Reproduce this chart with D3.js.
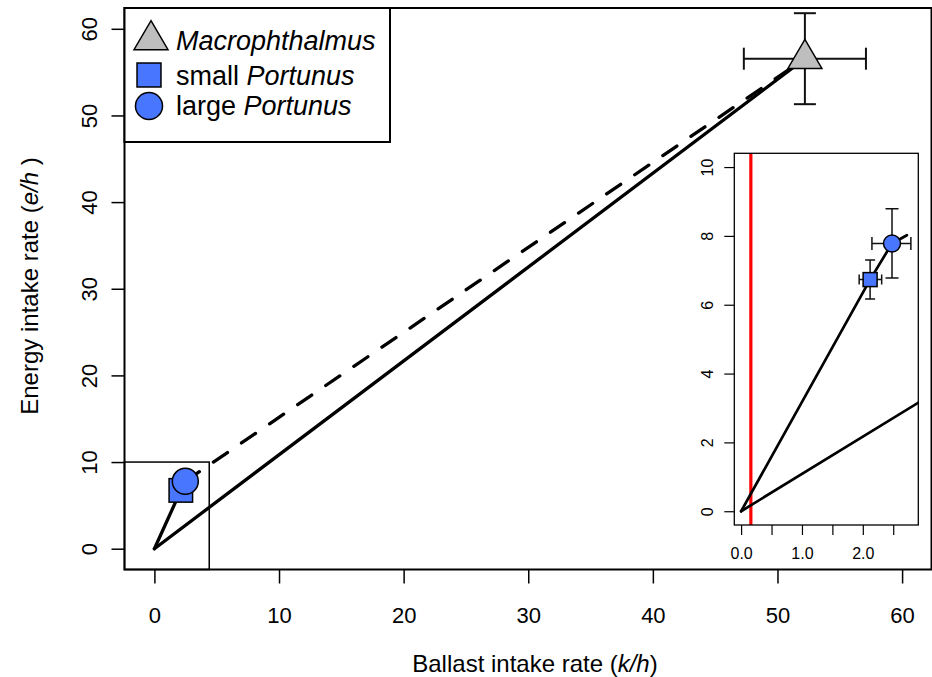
<!DOCTYPE html>
<html>
<head>
<meta charset="utf-8">
<script src="https://cdn.jsdelivr.net/npm/d3@7"></script>
<style>
  body { margin: 0; background: #fff; }
  svg { display: block; font-family: "Liberation Sans", Arial, sans-serif; }
</style>
</head>
<body>
<div id="chart"></div>
<script>
// Species means and error bar limits
const species = ["Macrophthalmus", "small Portunus", "large Portunus"];
const ballast = [52.2, 2.12, 2.48];
const energy = [56.55, 6.73, 7.78];
const ballastLo = [47.3, 1.94, 2.15];
const ballastHi = [57.1, 2.31, 2.79];
const energyLo = [51.3, 6.17, 6.78];
const energyHi = [61.8, 7.3, 8.79];

// Axes
const mainTicks = [0, 10, 20, 30, 40, 50, 60];
const insetXTicks = [0, 0.5, 1, 1.5, 2, 2.5];
const insetXLabels = ["0.0", "1.0", "2.0"];
const insetYTicks = [0, 2, 4, 6, 8, 10];

// Zoomed region marked in the main panel, red reference line in the inset
const zoomCorner = [4.4, 10];
const redLineX = 0.16;

const blue = '#4876FF';
const grey = '#BEBEBE';

function drawChart() {
    const width = 932, height = 677;
    const svg = d3.select('#chart').append('svg')
        .attr('width', width)
        .attr('height', height);

    // Main scales (R style 4% padding around 0..60)
    const x = d3.scaleLinear().domain([-2.4, 62.4]).range([124.5, 932]);
    const y = d3.scaleLinear().domain([-2.4, 62.4]).range([569.5, 8]);

    const pts = species.map((s, i) => ({
        name: s, x: ballast[i], y: energy[i],
        xlo: ballastLo[i], xhi: ballastHi[i], ylo: energyLo[i], yhi: energyHi[i]
    }));
    const [macro, small, large] = pts;

    // Marker helpers
    const triPath = (cx, cy, s) =>
        `M${cx},${cy - 19.3 * s}L${cx + 17 * s},${cy + 9.7 * s}L${cx - 17 * s},${cy + 9.7 * s}Z`;
    function marker(g, kind, cx, cy, s) {
        if (kind === 0) {
            g.append('path').attr('d', triPath(cx, cy, s))
                .attr('fill', grey).attr('stroke', '#000').attr('stroke-width', 1.5);
        } else if (kind === 1) {
            const side = 23.5 * s;
            g.append('rect').attr('x', cx - side / 2).attr('y', cy - side / 2)
                .attr('width', side).attr('height', side)
                .attr('fill', blue).attr('stroke', '#000').attr('stroke-width', 1.5);
        } else {
            g.append('circle').attr('cx', cx).attr('cy', cy).attr('r', 13 * s)
                .attr('fill', blue).attr('stroke', '#000').attr('stroke-width', 1.5);
        }
    }
    function errorBars(g, p, sx, sy, cap, sw) {
        const c = '#111';
        g.append('line').attr('x1', sx(p.xlo)).attr('x2', sx(p.xhi))
            .attr('y1', sy(p.y)).attr('y2', sy(p.y)).attr('stroke', c).attr('stroke-width', sw);
        g.append('line').attr('x1', sx(p.x)).attr('x2', sx(p.x))
            .attr('y1', sy(p.ylo)).attr('y2', sy(p.yhi)).attr('stroke', c).attr('stroke-width', sw);
        [p.xlo, p.xhi].forEach(v => g.append('line')
            .attr('x1', sx(v)).attr('x2', sx(v))
            .attr('y1', sy(p.y) - cap / 2).attr('y2', sy(p.y) + cap / 2)
            .attr('stroke', c).attr('stroke-width', sw));
        [p.ylo, p.yhi].forEach(v => g.append('line')
            .attr('x1', sx(p.x) - cap / 2).attr('x2', sx(p.x) + cap / 2)
            .attr('y1', sy(v)).attr('y2', sy(v))
            .attr('stroke', c).attr('stroke-width', sw));
    }
    function drawLines(g, sx, sy, lw) {
        const line = d3.line().x(d => sx(d[0])).y(d => sy(d[1]));
        g.append('path')
            .attr('d', line([[0, 0], [macro.x, macro.y]]))
            .attr('fill', 'none').attr('stroke', '#000').attr('stroke-width', lw)
            .attr('stroke-linecap', 'round');
        g.append('path')
            .attr('d', line([[0, 0], [small.x, small.y], [large.x, large.y]]))
            .attr('fill', 'none').attr('stroke', '#000').attr('stroke-width', lw)
            .attr('stroke-linecap', 'round').attr('stroke-linejoin', 'round');
        g.append('path')
            .attr('d', line([[large.x, large.y], [macro.x, macro.y]]))
            .attr('fill', 'none').attr('stroke', '#000').attr('stroke-width', lw)
            .attr('stroke-dasharray', '17 17').attr('stroke-linecap', 'round');
    }

    // ---- Main panel ----
    const main = svg.append('g');

    // Zoom rectangle
    main.append('rect')
        .attr('x', x(-2.4)).attr('y', y(zoomCorner[1]))
        .attr('width', x(zoomCorner[0]) - x(-2.4))
        .attr('height', y(-2.4) - y(zoomCorner[1]))
        .attr('fill', 'none').attr('stroke', '#000').attr('stroke-width', 1.5);

    drawLines(main, x, y, 3.3);
    errorBars(main, macro, x, y, 22, 2);
    marker(main, 0, x(macro.x), y(macro.y), 1);
    marker(main, 1, x(small.x), y(small.y), 1);
    marker(main, 2, x(large.x), y(large.y), 1);

    // Frame
    svg.append('rect')
        .attr('x', 124.5).attr('y', 8)
        .attr('width', 807).attr('height', 561.5)
        .attr('fill', 'none').attr('stroke', '#000').attr('stroke-width', 2);

    // X axis
    const xAxis = svg.append('g')
        .attr('transform', `translate(0,${569.5})`)
        .call(d3.axisBottom(x).tickValues(mainTicks).tickSize(14).tickFormat(d3.format('d')));
    xAxis.select('.domain').remove();
    xAxis.selectAll('line').attr('stroke', '#000').attr('stroke-width', 1.5);
    xAxis.selectAll('text').attr('y', 53).attr('dy', 0)
        .style('font-size', '22px').attr('fill', '#000');

    // Y axis with vertical labels
    const yAxis = svg.append('g')
        .attr('transform', `translate(124.5,0)`)
        .call(d3.axisLeft(y).tickValues(mainTicks).tickSize(13).tickFormat(d3.format('d')));
    yAxis.select('.domain').remove();
    yAxis.selectAll('line').attr('stroke', '#000').attr('stroke-width', 1.5);
    yAxis.selectAll('text')
        .attr('x', 0).attr('dy', 0)
        .attr('transform', 'translate(-28,0) rotate(-90)')
        .attr('text-anchor', 'middle')
        .style('font-size', '22px').attr('fill', '#000');

    // Axis titles
    const xt = svg.append('text')
        .attr('x', 535).attr('y', 672)
        .attr('text-anchor', 'middle').style('font-size', '24px');
    xt.append('tspan').text('Ballast intake rate (');
    xt.append('tspan').style('font-style', 'italic').text('k/h');
    xt.append('tspan').text(')');

    const yt = svg.append('text')
        .attr('transform', `translate(38,286) rotate(-90)`)
        .attr('text-anchor', 'middle').style('font-size', '24px');
    yt.append('tspan').text('Energy intake rate (');
    yt.append('tspan').style('font-style', 'italic').text('e/h');
    yt.append('tspan').text(' )');

    // ---- Inset ----
    const ix = d3.scaleLinear().domain([-0.112, 2.912]).range([734.3, 918.3]);
    const iy = d3.scaleLinear().domain([-0.4, 10.4]).range([525, 153.3]);
    const inset = svg.append('g');

    inset.append('rect')
        .attr('x', 734.3).attr('y', 153.3)
        .attr('width', 184).attr('height', 371.7)
        .attr('fill', '#fff');

    svg.append('clipPath').attr('id', 'inset-clip')
        .append('rect').attr('x', 734.3).attr('y', 153.3)
        .attr('width', 184).attr('height', 371.7);

    const ig = inset.append('g').attr('clip-path', 'url(#inset-clip)');
    ig.append('line')
        .attr('x1', ix(redLineX)).attr('x2', ix(redLineX))
        .attr('y1', iy(-0.4)).attr('y2', iy(10.4))
        .attr('stroke', '#FF0000').attr('stroke-width', 3.2);
    drawLines(ig, ix, iy, 2.7);
    errorBars(ig, small, ix, iy, 10, 1.5);
    errorBars(ig, large, ix, iy, 13, 1.5);
    marker(ig, 1, ix(small.x), iy(small.y), 14 / 23.5);
    marker(ig, 2, ix(large.x), iy(large.y), 8.5 / 13);

    inset.append('rect')
        .attr('x', 734.3).attr('y', 153.3)
        .attr('width', 184).attr('height', 371.7)
        .attr('fill', 'none').attr('stroke', '#000').attr('stroke-width', 1.3);

    const ixAxis = inset.append('g')
        .attr('transform', `translate(0,525)`)
        .call(d3.axisBottom(ix).tickValues(insetXTicks).tickSize(10)
            .tickFormat(d => {
                const k = [0, 1, 2].indexOf(d);
                return k >= 0 ? insetXLabels[k] : '';
            }));
    ixAxis.select('.domain').remove();
    ixAxis.selectAll('line').attr('stroke', '#000').attr('stroke-width', 1.2);
    ixAxis.selectAll('text').attr('y', 33.5).attr('dy', 0)
        .style('font-size', '16px').attr('fill', '#000');

    const iyAxis = inset.append('g')
        .attr('transform', `translate(734.3,0)`)
        .call(d3.axisLeft(iy).tickValues(insetYTicks).tickSize(10).tickFormat(d3.format('d')));
    iyAxis.select('.domain').remove();
    iyAxis.selectAll('line').attr('stroke', '#000').attr('stroke-width', 1.2);
    iyAxis.selectAll('text')
        .attr('x', 0).attr('dy', 0)
        .attr('transform', 'translate(-21,0) rotate(-90)')
        .attr('text-anchor', 'middle')
        .style('font-size', '16px').attr('fill', '#000');

    // ---- Legend ----
    const legend = svg.append('g');
    legend.append('rect')
        .attr('x', 124.5).attr('y', 8)
        .attr('width', 265.5).attr('height', 134)
        .attr('fill', '#fff').attr('stroke', '#000').attr('stroke-width', 2);

    const legY = [40, 75, 106];
    const legBase = [49.5, 85, 115];
    species.forEach((s, i) => {
        marker(legend, i, i === 0 ? 151 : 149, legY[i], i === 0 ? 1 : (i === 1 ? 1.02 : 1.04));
        const t = legend.append('text')
            .attr('x', 176).attr('y', legBase[i])
            .style('font-size', '27px');
        const parts = s.split(' ');
        if (parts.length === 1) {
            t.append('tspan').style('font-style', 'italic').text(parts[0]);
        } else {
            t.append('tspan').text(parts[0] + ' ');
            t.append('tspan').style('font-style', 'italic').text(parts[1]);
        }
    });
}

drawChart();
</script>
</body>
</html>
